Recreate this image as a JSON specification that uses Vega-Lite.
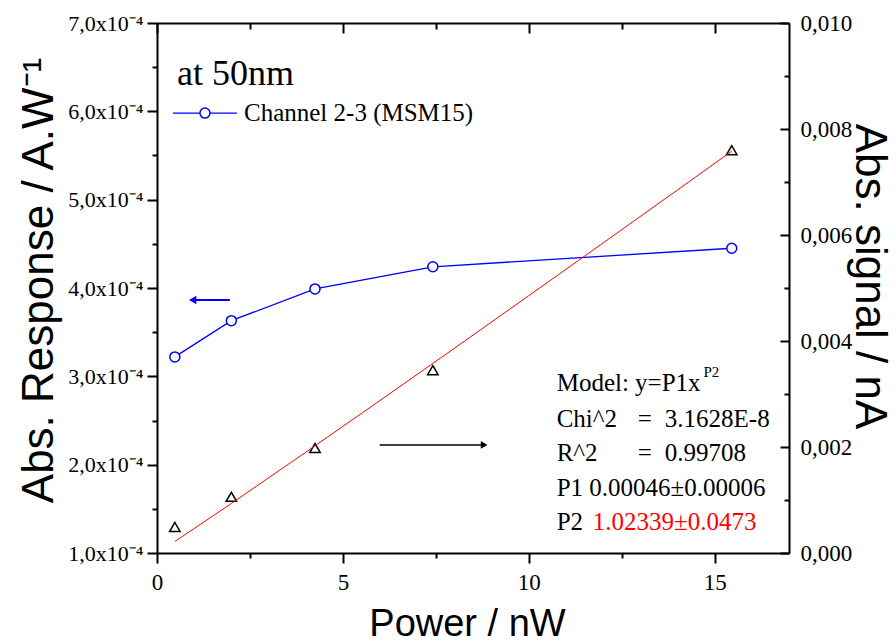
{
  "$schema": "https://vega.github.io/schema/vega-lite/v6.json",
  "width": 632,
  "height": 530,
  "autosize": {"type": "none"},
  "padding": {"left": 157, "top": 23, "right": 107, "bottom": 91},
  "background": "white",
  "datasets": {
    "response": [
      {"p": 0.48, "v": 0.000322},
      {"p": 2.0, "v": 0.000363},
      {"p": 4.25, "v": 0.000399},
      {"p": 7.42, "v": 0.000424},
      {"p": 15.46, "v": 0.000445}
    ],
    "signal": [
      {"p": 0.48, "v": 0.00049},
      {"p": 2.0, "v": 0.00106},
      {"p": 4.25, "v": 0.00198},
      {"p": 7.42, "v": 0.00345},
      {"p": 15.46, "v": 0.0076}
    ],
    "fit": [
      {"p": 0.48, "v": 0.0002173},
      {"p": 2.0, "v": 0.000935},
      {"p": 4.0, "v": 0.0019005},
      {"p": 6.0, "v": 0.0028783},
      {"p": 8.0, "v": 0.0038633},
      {"p": 10.0, "v": 0.0048544},
      {"p": 12.0, "v": 0.0058503},
      {"p": 14.0, "v": 0.0068499},
      {"p": 15.46, "v": 0.007582}
    ],
    "fitText": [
      {"p": 10.75, "v": 0.0030566, "label": "Model: y=P1x"},
      {"p": 10.75, "v": 0.0023774, "label": "Chi^2"},
      {"p": 12.93, "v": 0.0023774, "label": "="},
      {"p": 13.66, "v": 0.0023774, "label": "3.1628E-8"},
      {"p": 10.75, "v": 0.0017358, "label": "R^2"},
      {"p": 12.93, "v": 0.0017358, "label": "="},
      {"p": 13.66, "v": 0.0017358, "label": "0.99708"},
      {"p": 10.75, "v": 0.0010755, "label": "P1 0.00046±0.00006"},
      {"p": 10.75, "v": 0.00043396, "label": "P2"}
    ]
  },
  "layer": [
    {
      "data": {"name": "response"},
      "mark": {"type": "line", "color": "#0000ff", "strokeWidth": 1.3},
      "encoding": {
        "x": {
          "field": "p", "type": "quantitative",
          "scale": {"domain": [0, 17], "nice": false, "zero": false},
          "axis": {
            "orient": "bottom", "values": [0, 5, 10, 15], "format": "d", "grid": false, "labelFlush": false,
            "domainColor": "black", "domainWidth": 2, "ticks": true, "tickColor": "black", "tickWidth": 2, "tickOpacity": 1,
            "tickSize": 10, "labelPadding": 8, "labelFontSize": 23, "labelFont": "Liberation Serif", "labelColor": "black",
            "title": "Power / nW", "titleFont": "Liberation Sans", "titleFontWeight": "normal", "titleColor": "black",
            "titleFontSize": 38, "titleX": 310, "titleY": 82, "titleBaseline": "alphabetic"
          }
        },
        "y": {
          "field": "v", "type": "quantitative",
          "scale": {"domain": [0.0001, 0.0007], "nice": false, "zero": false},
          "axis": {
            "orient": "left", "grid": false, "labelFlush": false,
            "values": [0.0001, 0.0002, 0.0003, 0.0004, 0.0005, 0.0006, 0.0007],
            "labelExpr": "replace(format(datum.value * 1e4, '.1f'), '.', ',') + 'x10⁻⁴'",
            "domainColor": "black", "domainWidth": 2, "ticks": true, "tickColor": "black", "tickWidth": 2, "tickOpacity": 1,
            "tickSize": 10, "labelPadding": 4, "labelFontSize": 22, "labelFont": "Liberation Serif", "labelColor": "black",
            "title": "Abs. Response / A.W⁻¹", "titleFont": "Liberation Sans", "titleFontWeight": "normal", "titleColor": "black",
            "titleFontSize": 44, "titleAngle": 270, "titleX": -105, "titleY": 257, "titleBaseline": "alphabetic"
          }
        }
      }
    },
    {
      "data": {"name": "response"},
      "mark": {"type": "point", "shape": "circle", "size": 100, "filled": true, "fill": "white", "stroke": "#0000ff", "strokeWidth": 1.5, "opacity": 1},
      "encoding": {
        "x": {"field": "p", "type": "quantitative", "scale": {"domain": [0, 17], "nice": false, "zero": false}, "axis": null},
        "y": {"field": "v", "type": "quantitative", "scale": {"domain": [0.0001, 0.0007], "nice": false, "zero": false}, "axis": null}
      }
    },
    {
      "data": {"values": [{"p": 0.43, "v": 0.000598}, {"p": 2.15, "v": 0.000598}]},
      "mark": {"type": "line", "color": "#0000ff", "strokeWidth": 1.3},
      "encoding": {
        "x": {"field": "p", "type": "quantitative", "scale": {"domain": [0, 17], "nice": false, "zero": false}, "axis": null},
        "y": {"field": "v", "type": "quantitative", "scale": {"domain": [0.0001, 0.0007], "nice": false, "zero": false}, "axis": null}
      }
    },
    {
      "data": {"values": [{"p": 1.29, "v": 0.000598}]},
      "mark": {"type": "point", "shape": "circle", "size": 100, "filled": true, "fill": "white", "stroke": "#0000ff", "strokeWidth": 1.5, "opacity": 1},
      "encoding": {
        "x": {"field": "p", "type": "quantitative", "scale": {"domain": [0, 17], "nice": false, "zero": false}, "axis": null},
        "y": {"field": "v", "type": "quantitative", "scale": {"domain": [0.0001, 0.0007], "nice": false, "zero": false}, "axis": null}
      }
    },
    {
      "data": {"values": [{"p": 2.34, "v": 0.000598, "label": "Channel 2-3 (MSM15)"}]},
      "mark": {"type": "text", "align": "left", "baseline": "middle", "font": "Liberation Serif", "fontSize": 25, "color": "#000000"},
      "encoding": {
        "x": {"field": "p", "type": "quantitative", "scale": {"domain": [0, 17], "nice": false, "zero": false}, "axis": null},
        "y": {"field": "v", "type": "quantitative", "scale": {"domain": [0.0001, 0.0007], "nice": false, "zero": false}, "axis": null},
        "text": {"field": "label"}
      }
    },
    {
      "data": {"values": [{"p": 0.54, "v": 0.0006298, "label": "at 50nm"}]},
      "mark": {"type": "text", "align": "left", "baseline": "alphabetic", "font": "Liberation Serif", "fontSize": 36, "color": "#000000"},
      "encoding": {
        "x": {
          "field": "p", "type": "quantitative",
          "scale": {"domain": [0, 17], "nice": false, "zero": false},
          "axis": {"orient": "bottom", "values": [2.5, 7.5, 12.5], "grid": false, "labels": false, "domain": false, "ticks": true, "tickColor": "black", "tickWidth": 2, "tickOpacity": 1, "tickSize": 5, "title": null}
        },
        "y": {
          "field": "v", "type": "quantitative",
          "scale": {"domain": [0.0001, 0.0007], "nice": false, "zero": false},
          "axis": {"orient": "left", "values": [0.00015, 0.00025, 0.00035, 0.00045, 0.00055, 0.00065], "grid": false, "labels": false, "domain": false, "ticks": true, "tickColor": "black", "tickWidth": 2, "tickOpacity": 1, "tickSize": 5, "title": null}
        },
        "text": {"field": "label"}
      }
    },
    {
      "data": {"values": [{"p": 0.9, "v": 0.0003864}, {"p": 1.96, "v": 0.0003864}]},
      "mark": {"type": "line", "color": "#0000ff", "strokeWidth": 2},
      "encoding": {
        "x": {"field": "p", "type": "quantitative", "scale": {"domain": [0, 17], "nice": false, "zero": false}, "axis": null},
        "y": {"field": "v", "type": "quantitative", "scale": {"domain": [0.0001, 0.0007], "nice": false, "zero": false}, "axis": null}
      }
    },
    {
      "data": {"values": [{"p": 0.96, "v": 0.0003864}]},
      "mark": {"type": "point", "shape": "triangle-left", "size": 70, "filled": true, "color": "#0000ff", "opacity": 1},
      "encoding": {
        "x": {"field": "p", "type": "quantitative", "scale": {"domain": [0, 17], "nice": false, "zero": false}, "axis": null},
        "y": {"field": "v", "type": "quantitative", "scale": {"domain": [0.0001, 0.0007], "nice": false, "zero": false}, "axis": null}
      }
    },
    {
      "data": {"name": "signal"},
      "mark": {"type": "point", "shape": "triangle-up", "size": 110, "filled": false, "color": "#000000", "strokeWidth": 1.5, "opacity": 1},
      "encoding": {
        "x": {
          "field": "p", "type": "quantitative",
          "scale": {"domain": [0, 17], "nice": false, "zero": false},
          "axis": {"orient": "top", "values": [0, 5, 10, 15], "grid": false, "labels": false, "domainColor": "black", "domainWidth": 2, "ticks": true, "tickColor": "black", "tickWidth": 2, "tickOpacity": 1, "tickSize": -10, "title": null}
        },
        "y": {
          "field": "v", "type": "quantitative",
          "scale": {"domain": [0, 0.01], "nice": false, "zero": false},
          "axis": {
            "orient": "right", "grid": false, "labelFlush": false,
            "values": [0, 0.002, 0.004, 0.006, 0.008, 0.01],
            "labelExpr": "replace(format(datum.value, '.3f'), '.', ',')",
            "domainColor": "black", "domainWidth": 2, "ticks": true, "tickColor": "black", "tickWidth": 2, "tickOpacity": 1,
            "tickSize": -9, "labelPadding": 20, "labelFontSize": 23, "labelFont": "Liberation Serif", "labelColor": "black",
            "title": "Abs. signal / nA", "titleFont": "Liberation Sans", "titleFontWeight": "normal", "titleColor": "black",
            "titleFontSize": 44, "titleAngle": 90, "titleX": 66, "titleY": 253, "titleBaseline": "alphabetic"
          }
        }
      }
    },
    {
      "data": {"name": "fit"},
      "mark": {"type": "line", "color": "#ff0000", "strokeWidth": 1},
      "encoding": {
        "x": {"field": "p", "type": "quantitative", "scale": {"domain": [0, 17], "nice": false, "zero": false}, "axis": null},
        "y": {"field": "v", "type": "quantitative", "scale": {"domain": [0, 0.01], "nice": false, "zero": false}, "axis": null}
      }
    },
    {
      "data": {"values": [{"p": 5.99, "v": 0.002038}, {"p": 8.75, "v": 0.002038}]},
      "mark": {"type": "line", "color": "#000000", "strokeWidth": 1.5},
      "encoding": {
        "x": {
          "field": "p", "type": "quantitative",
          "scale": {"domain": [0, 17], "nice": false, "zero": false},
          "axis": {"orient": "top", "values": [2.5, 7.5, 12.5], "grid": false, "labels": false, "domain": false, "ticks": true, "tickColor": "black", "tickWidth": 2, "tickOpacity": 1, "tickSize": -6, "title": null}
        },
        "y": {
          "field": "v", "type": "quantitative",
          "scale": {"domain": [0, 0.01], "nice": false, "zero": false},
          "axis": {"orient": "right", "values": [0.001, 0.003, 0.005, 0.007, 0.009], "grid": false, "labels": false, "domain": false, "ticks": true, "tickColor": "black", "tickWidth": 2, "tickOpacity": 1, "tickSize": -5, "title": null}
        }
      }
    },
    {
      "data": {"values": [{"p": 8.8, "v": 0.002038}]},
      "mark": {"type": "point", "shape": "triangle-right", "size": 60, "filled": true, "color": "#000000", "opacity": 1},
      "encoding": {
        "x": {"field": "p", "type": "quantitative", "scale": {"domain": [0, 17], "nice": false, "zero": false}, "axis": null},
        "y": {"field": "v", "type": "quantitative", "scale": {"domain": [0, 0.01], "nice": false, "zero": false}, "axis": null}
      }
    },
    {
      "data": {"name": "fitText"},
      "mark": {"type": "text", "align": "left", "baseline": "alphabetic", "font": "Liberation Serif", "fontSize": 25, "color": "#000000"},
      "encoding": {
        "x": {"field": "p", "type": "quantitative", "scale": {"domain": [0, 17], "nice": false, "zero": false}, "axis": null},
        "y": {"field": "v", "type": "quantitative", "scale": {"domain": [0, 0.01], "nice": false, "zero": false}, "axis": null},
        "text": {"field": "label"}
      }
    },
    {
      "data": {"values": [{"p": 14.7, "v": 0.0033208, "label": "P2"}]},
      "mark": {"type": "text", "align": "left", "baseline": "alphabetic", "font": "Liberation Serif", "fontSize": 15, "color": "#000000"},
      "encoding": {
        "x": {"field": "p", "type": "quantitative", "scale": {"domain": [0, 17], "nice": false, "zero": false}, "axis": null},
        "y": {"field": "v", "type": "quantitative", "scale": {"domain": [0, 0.01], "nice": false, "zero": false}, "axis": null},
        "text": {"field": "label"}
      }
    },
    {
      "data": {"values": [{"p": 11.72, "v": 0.00043396, "label": "1.02339±0.0473"}]},
      "mark": {"type": "text", "align": "left", "baseline": "alphabetic", "font": "Liberation Serif", "fontSize": 25, "color": "#ff0000"},
      "encoding": {
        "x": {"field": "p", "type": "quantitative", "scale": {"domain": [0, 17], "nice": false, "zero": false}, "axis": null},
        "y": {"field": "v", "type": "quantitative", "scale": {"domain": [0, 0.01], "nice": false, "zero": false}, "axis": null},
        "text": {"field": "label"}
      }
    }
  ],
  "resolve": {"scale": {"x": "independent", "y": "independent"}}
}
